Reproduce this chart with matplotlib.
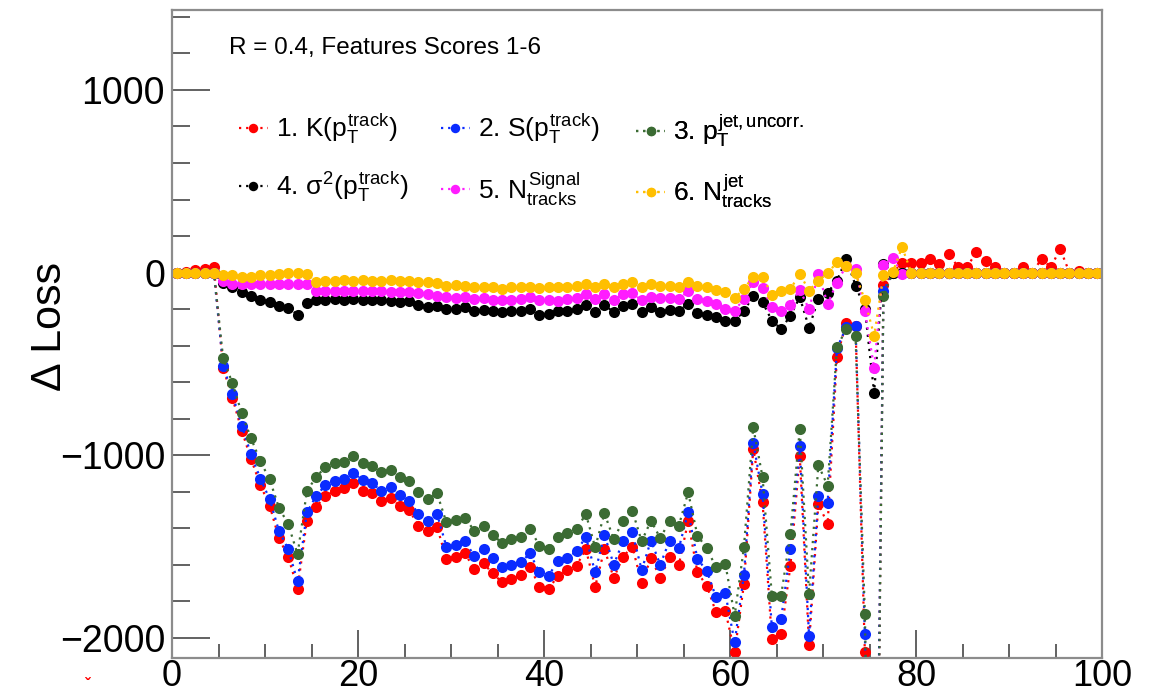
import numpy as np
import matplotlib
matplotlib.use("Agg")
import matplotlib.pyplot as plt
from matplotlib.ticker import MultipleLocator

plt.rcParams['font.family'] = ['Liberation Sans', 'DejaVu Sans']
plt.rcParams['mathtext.fontset'] = 'custom'
plt.rcParams['mathtext.rm'] = 'Liberation Sans'
plt.rcParams['mathtext.it'] = 'Liberation Sans'
plt.rcParams['mathtext.bf'] = 'Liberation Sans:bold'

# bin centres of the feature-score histogram
bin_centers = np.arange(0.5, 100.0, 1.0)

# 1. K(pT track)
loss_kurt = [0, 5, 12, 20, 33, -524, -687, -866, -1021, -1164,
             -1277, -1455, -1557, -1731, -1360, -1283, -1223, -1195, -1182, -1150,
             -1195, -1209, -1250, -1235, -1277, -1301, -1386, -1417, -1392, -1569,
             -1556, -1538, -1624, -1593, -1648, -1697, -1679, -1655, -1611, -1721,
             -1733, -1660, -1629, -1605, -1514, -1721, -1514, -1673, -1556, -1501,
             -1702, -1563, -1673, -1560, -1600, -1362, -1642, -1715, -1861, -1852,
             -2080, -1705, -966, -1258, -2007, -1979, -1605, -1002, -2038, -1267,
             -1377, -460, -278, -295, -2077, -4500, -68, 0, 51, 51,
             51, 75, 47, 102, 33, 33, 111, 66, 29, 0,
             0, 29, 0, 75, 29, 130, 0, 11, 0, 0]

# 2. S(pT track)
loss_skew = [0, 0, 0, 0, 0, -510, -667, -839, -996, -1128,
             -1241, -1415, -1515, -1692, -1314, -1223, -1164, -1140, -1128, -1098,
             -1136, -1154, -1195, -1176, -1216, -1249, -1322, -1359, -1322, -1501,
             -1490, -1472, -1551, -1514, -1564, -1615, -1600, -1587, -1538, -1642,
             -1660, -1578, -1563, -1527, -1447, -1642, -1436, -1600, -1472, -1423,
             -1629, -1468, -1600, -1468, -1509, -1313, -1569, -1633, -1779, -1757,
             -2026, -1655, -933, -1212, -1943, -1897, -1514, -950, -1990, -1222,
             -1260, -415, -300, -292, -1977, -4300, -100, 0, 0, 0,
             0, 0, 0, 0, 0, 0, 0, 0, 0, 0,
             0, 0, 0, 0, 0, 0, 0, 0, 0, 0]

# 3. pT jet, uncorrected
loss_ptjet = [0, 0, 0, 0, 0, -469, -607, -771, -908, -1033,
              -1133, -1288, -1378, -1543, -1199, -1118, -1067, -1045, -1036, -1003,
              -1045, -1057, -1094, -1081, -1121, -1140, -1204, -1240, -1209, -1368,
              -1355, -1344, -1413, -1388, -1436, -1483, -1459, -1450, -1404, -1495,
              -1514, -1447, -1428, -1405, -1322, -1505, -1319, -1460, -1359, -1304,
              -1472, -1359, -1454, -1362, -1386, -1204, -1441, -1509, -1615, -1596,
              -1880, -1503, -848, -1121, -1770, -1769, -1430, -857, -1760, -1055,
              -1167, -409, -309, -350, -1868, -4600, -131, 0, 0, 0,
              0, 0, 0, 0, 0, 0, 0, 0, 0, 0,
              0, 0, 0, 0, 0, 0, 0, 0, 0, 0]

# 4. sigma^2(pT track)
loss_var = [0, 0, 0, 0, 0, -58, -80, -108, -126, -150,
            -163, -181, -195, -230, -168, -153, -150, -144, -150, -144,
            -153, -150, -153, -157, -163, -157, -175, -186, -181, -199,
            -199, -190, -208, -204, -212, -217, -208, -212, -199, -230,
            -227, -212, -208, -199, -175, -217, -177, -217, -181, -172,
            -217, -190, -215, -205, -212, -170, -222, -230, -241, -263,
            -263, -212, -126, -163, -263, -309, -236, -135, -303, -144,
            -110, -44, 75, -71, -200, -659, 47, -4, 0, 0,
            0, 0, 0, 0, 0, 0, 0, 0, 0, 0,
            0, 0, 0, 0, 0, 0, 0, 0, 0, 0]

# 5. N tracks (signal)
loss_nsig = [0, 0, 0, 0, 0, -44, -62, -62, -62, -62,
             -62, -62, -62, -62, -62, -102, -99, -99, -102, -102,
             -99, -99, -102, -108, -108, -108, -113, -117, -126, -135,
             -139, -132, -144, -139, -150, -153, -150, -144, -135, -150,
             -153, -157, -144, -139, -120, -144, -120, -153, -117, -113,
             -153, -135, -140, -140, -145, -100, -144, -157, -172, -199,
             -208, -144, -50, -85, -190, -208, -175, -95, -200, -10,
             -170, -55, 38, 20, -212, -522, 40, 80, -7, 0,
             0, 0, 0, 0, 0, 0, 0, 0, 0, 0,
             0, 0, 0, 0, 0, 0, 0, 0, 0, 0]

# 6. N tracks (jet)
loss_njet = [0, 0, 0, 0, 0, -13, -16, -22, -22, -16,
             -13, -7, -4, 0, -7, -53, -44, -44, -40, -44,
             -40, -44, -44, -40, -48, -44, -53, -53, -58, -71,
             -66, -71, -80, -77, -80, -90, -80, -80, -77, -84,
             -80, -80, -77, -71, -62, -77, -62, -77, -62, -53,
             -77, -62, -71, -71, -80, -53, -71, -80, -95, -108,
             -139, -90, -22, -22, -121, -99, -90, -7, -99, -44,
             -4, 57, 38, -4, -153, -345, -16, 2, 139, 0,
             0, 0, 0, 0, 0, 0, 0, 0, 0, 0,
             0, 0, 0, 0, 0, 0, 0, 0, 0, 0]

series = [loss_kurt, loss_skew, loss_ptjet, loss_var, loss_nsig, loss_njet]
labels = ['1. K($p_{T}^{track}$)', '2. S($p_{T}^{track}$)', '3. $p_{T}^{jet,uncorr.}$',
          '4. $\\sigma^{2}$($p_{T}^{track}$)', '5. $N_{tracks}^{Signal}$', '6. $N_{tracks}^{jet}$']
colors = ['#ff0000', '#0a2bff', '#3b6b33', '#000000', '#ff1cff', '#ffbf00']

fig = plt.figure(figsize=(11.53, 6.97), dpi=100)
ax = fig.add_axes([172 / 1153, 1 - 658 / 697, 930 / 1153, 648 / 697])

handles = []
for vals, lab, col in zip(series, labels, colors):
    h, = ax.plot(bin_centers, vals, linestyle=(0, (1, 2.2)), linewidth=1.6, color=col,
                 marker='o', markersize=8, markeredgewidth=0, label=lab)
    handles.append(h)

ax.set_xlim(0, 100)
ax.set_ylim(-2111, 1438)
ax.xaxis.set_major_locator(MultipleLocator(20))
ax.xaxis.set_minor_locator(MultipleLocator(5))
ax.yaxis.set_major_locator(MultipleLocator(1000))
ax.yaxis.set_minor_locator(MultipleLocator(200))
ax.tick_params(axis='both', which='both', direction='in', colors='#555555',
               labelcolor='black', top=False, right=False)
ax.tick_params(axis='x', which='major', length=20, width=1.3, labelsize=26, pad=1)
ax.tick_params(axis='x', which='minor', length=10, width=1.3)
ax.tick_params(axis='y', which='major', length=27, width=1.3, labelsize=27, pad=5)
ax.tick_params(axis='y', which='minor', length=13, width=1.3)
for sp in ax.spines.values():
    sp.set_color('#8c8c8c')
    sp.set_linewidth(1.6)

ax.set_ylabel('Δ Loss', fontsize=31)
ax.yaxis.set_label_coords(-0.11, 0.512)

ax.text(0.061, 0.941, 'R = 0.4, Features Scores 1-6', transform=ax.transAxes,
        fontsize=17.5, ha='left', va='center')

# legend: three columns of two entries
col_x = [0.072, 0.289, 0.499]
for c in range(3):
    hs = [handles[c], handles[c + 3]]
    ls = [labels[c], labels[c + 3]]
    leg = ax.legend(hs, ls, loc='upper left', bbox_to_anchor=(col_x[c], 0.842),
                    frameon=False, fontsize=19, handlelength=1.1, handletextpad=0.3,
                    labelspacing=0.9, borderpad=0, borderaxespad=0, markerscale=0.85)
    ax.add_artist(leg)

fig.text(0.074, 0.006, 'ˇ', color='red', fontsize=12, fontweight='bold', va='bottom')

fig.savefig('out.png', dpi=100)
